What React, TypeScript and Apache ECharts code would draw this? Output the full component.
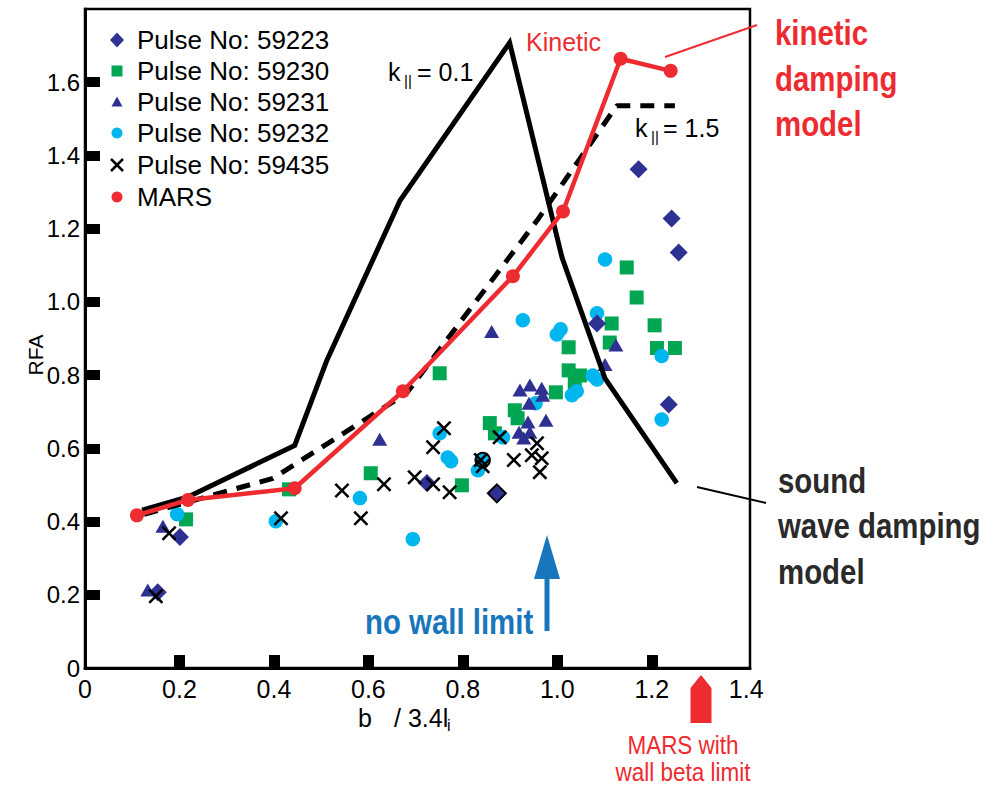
import React, { useEffect, useRef } from 'react';
import * as echarts from 'echarts';

// ---------- data ----------
const pulse59223: number[][] = [
  [0.154, 0.207], [0.201, 0.358], [0.724, 0.505], [0.872, 0.477], [1.084, 0.941],
  [1.172, 1.362], [1.242, 1.228], [1.257, 1.135], [1.236, 0.720],
];
const pulse59223Outlined = [3];

const pulse59230: number[][] = [
  [0.214, 0.406], [0.432, 0.488], [0.605, 0.532], [0.751, 0.805], [0.798, 0.499],
  [0.857, 0.669], [0.868, 0.641], [0.910, 0.704], [0.916, 0.682], [0.997, 0.753],
  [1.024, 0.876], [1.024, 0.813], [1.048, 0.799], [1.037, 0.778], [1.111, 0.889],
  [1.115, 0.941], [1.147, 1.094], [1.168, 1.012], [1.206, 0.936], [1.211, 0.874],
  [1.249, 0.874],
];

const pulse59231: number[][] = [
  [0.133, 0.213], [0.165, 0.387], [0.624, 0.625], [0.861, 0.919], [0.921, 0.759],
  [0.942, 0.773], [0.967, 0.764], [0.969, 0.745], [0.940, 0.723], [0.976, 0.677],
  [0.938, 0.672], [0.919, 0.644], [0.942, 0.644], [0.929, 0.628], [1.101, 0.829],
  [1.124, 0.882],
];

const pulse59232: number[][] = [
  [0.195, 0.420], [0.404, 0.401], [0.582, 0.464], [0.694, 0.352], [0.751, 0.641],
  [0.768, 0.575], [0.775, 0.565], [0.832, 0.540], [0.842, 0.568], [0.885, 0.630],
  [0.927, 0.950], [0.954, 0.723], [0.999, 0.911], [1.007, 0.925], [1.031, 0.745],
  [1.041, 0.756], [1.075, 0.799], [1.084, 0.788], [1.084, 0.969], [1.101, 1.116],
  [1.221, 0.852], [1.221, 0.679],
];
const pulse59232Outlined = [8];

const pulse59435: number[][] = [
  [0.150, 0.196], [0.178, 0.368], [0.415, 0.409], [0.544, 0.485], [0.584, 0.409],
  [0.633, 0.502], [0.698, 0.521], [0.737, 0.603], [0.737, 0.502], [0.760, 0.655],
  [0.772, 0.480], [0.838, 0.568], [0.842, 0.551], [0.878, 0.630], [0.908, 0.568],
  [0.957, 0.614], [0.946, 0.581], [0.967, 0.573], [0.963, 0.535],
];

const marsKinetic: number[][] = [
  [0.110, 0.417], [0.218, 0.459], [0.444, 0.491], [0.673, 0.756],
  [0.906, 1.070], [1.012, 1.247], [1.134, 1.664], [1.240, 1.631],
];

const soundK01: number[][] = [
  [0.121, 0.431], [0.218, 0.467], [0.444, 0.608], [0.512, 0.840], [0.667, 1.277],
  [0.899, 1.708], [1.010, 1.121], [1.101, 0.791], [1.253, 0.505],
];

const soundK15: number[][] = [
  [0.125, 0.420], [0.398, 0.518], [0.681, 0.751], [0.957, 1.222], [1.126, 1.536], [1.249, 1.536],
];

const xTickLabels = [0, 0.2, 0.4, 0.6, 0.8, 1.0, 1.2, 1.4];
const xTickMarks = [0.2, 0.4, 0.6, 0.8, 1.0, 1.2];
const yTickLabels = [0, 0.2, 0.4, 0.6, 0.8, 1.0, 1.2, 1.4, 1.6];
const yTickMarks = [0.2, 0.4, 0.6, 0.8, 1.0, 1.2, 1.4, 1.6];

const legendNames = [
  'Pulse No: 59223', 'Pulse No: 59230', 'Pulse No: 59231',
  'Pulse No: 59232', 'Pulse No: 59435', 'MARS',
];

// ---------- style ----------
const F = '"Liberation Sans", Arial, Helvetica, sans-serif';
const NAVY = '#2e3192';
const GREEN = '#00a651';
const CYAN = '#00b6ef';
const RED = '#ed2b30';
const BLUE = '#1776bc';
const XPATH = 'path://M0 12 L12 0 L50 38 L88 0 L100 12 L62 50 L100 88 L88 100 L50 62 L12 100 L0 88 L38 50 Z';

function withOutline(arr: number[][], idx: number[]) {
  return arr.map((v, i) =>
    idx.includes(i) ? { value: v, itemStyle: { borderColor: '#000', borderWidth: 2 } } : v
  );
}

function txt(x: number, y: number, text: string, size: number, color = '#000', opts: any = {}) {
  return {
    type: 'text', x, y, silent: true,
    scaleX: opts.scaleX || 1,
    rotation: opts.rotation || 0,
    style: {
      text, fill: color, fontSize: size, fontFamily: F,
      fontWeight: opts.weight || 'normal',
      align: opts.align || 'left', verticalAlign: 'middle',
    },
  };
}

export default function App() {
  const ref = useRef<HTMLDivElement>(null);

  useEffect(() => {
    const chart = echarts.init(ref.current as HTMLDivElement, null, { renderer: 'svg' });

    const legendRows = [40, 71, 102, 133, 165, 197];
    const lx = 117;
    const legendGraphics: any[] = [
      { type: 'polygon', shape: { points: [[lx, legendRows[0] - 7.5], [lx + 7, legendRows[0]], [lx, legendRows[0] + 7.5], [lx - 7, legendRows[0]]] }, style: { fill: NAVY } },
      { type: 'rect', shape: { x: lx - 5.5, y: legendRows[1] - 5.5, width: 11, height: 11 }, style: { fill: GREEN } },
      { type: 'polygon', shape: { points: [[lx, legendRows[2] - 5.5], [lx + 5.5, legendRows[2] + 4.5], [lx - 5.5, legendRows[2] + 4.5]] }, style: { fill: NAVY } },
      { type: 'circle', shape: { cx: lx, cy: legendRows[3], r: 5.5 }, style: { fill: CYAN } },
      { type: 'line', shape: { x1: lx - 6, y1: legendRows[4] - 6, x2: lx + 6, y2: legendRows[4] + 6 }, style: { stroke: '#000', lineWidth: 2.5 } },
      { type: 'line', shape: { x1: lx + 6, y1: legendRows[4] - 6, x2: lx - 6, y2: legendRows[4] + 6 }, style: { stroke: '#000', lineWidth: 2.5 } },
      { type: 'circle', shape: { cx: lx, cy: legendRows[5], r: 5.5 }, style: { fill: RED } },
      ...legendNames.map((n, i) => txt(137, legendRows[i], n, 26)),
    ];

    const bold = { weight: 'bold', scaleX: 0.84 };
    const annotations: any[] = [
      // k|| = 0.1
      txt(388, 72, 'k', 25),
      txt(404, 80, '||', 15),
      txt(417, 72, '= 0.1', 25),
      // k|| = 1.5
      txt(635, 128, 'k', 25),
      txt(651, 136, '||', 15),
      txt(663, 128, '= 1.5', 25),
      // Kinetic
      txt(526, 42, 'Kinetic', 25, RED),
      // kinetic damping model
      { type: 'line', shape: { x1: 665, y1: 57, x2: 757, y2: 25 }, style: { stroke: RED, lineWidth: 2 } },
      txt(775, 33, 'kinetic', 35, RED, bold),
      txt(775, 79, 'damping', 35, RED, bold),
      txt(775, 124, 'model', 35, RED, bold),
      // sound wave damping model
      { type: 'line', shape: { x1: 697, y1: 487, x2: 766, y2: 503 }, style: { stroke: '#000', lineWidth: 2 } },
      txt(778, 481, 'sound', 35, '#2a2a2a', bold),
      txt(778, 526, 'wave damping', 35, '#2a2a2a', bold),
      txt(778, 572, 'model', 35, '#2a2a2a', bold),
      // no wall limit
      txt(365, 622, 'no wall limit', 35, BLUE, bold),
      { type: 'rect', shape: { x: 544.5, y: 575, width: 5, height: 56 }, style: { fill: BLUE } },
      { type: 'polygon', shape: { points: [[547, 535], [560, 579], [534, 579]] }, style: { fill: BLUE } },
      // MARS with wall beta limit
      { type: 'polygon', shape: { points: [[701, 675], [711.5, 688], [711.5, 723], [690.5, 723], [690.5, 688]] }, style: { fill: RED } },
      { ...txt(683, 745, 'MARS with', 25, RED, { align: 'center', scaleX: 0.9 }), originX: 0 },
      txt(683, 772, 'wall beta limit', 25, RED, { align: 'center', scaleX: 0.9 }),
      // axis titles
      txt(35, 355, 'RFA', 21, '#000', { align: 'center', rotation: Math.PI / 2 }),
      txt(358, 718, 'b', 25),
      txt(394, 718, '/ 3.4l', 25),
      txt(447, 725, 'i', 16),
    ];

    chart.setOption({
      animation: false,
      backgroundColor: '#fff',
      grid: {
        left: 85, top: 9, right: 255, bottom: 118,
        show: true, borderColor: '#000', borderWidth: 2.5, backgroundColor: 'transparent',
      },
      xAxis: {
        type: 'value', min: 0, max: 1.408,
        axisLine: { show: true, onZero: false, lineStyle: { color: '#000', width: 3 } },
        axisTick: { show: true, inside: true, length: 13, customValues: xTickMarks, lineStyle: { color: '#000', width: 11 } },
        axisLabel: {
          customValues: xTickLabels, color: '#000', fontSize: 25, fontFamily: F, margin: 8,
          formatter: (v: number) => (v === 0 ? '0' : v.toFixed(1)),
        },
        splitLine: { show: false },
      },
      yAxis: {
        type: 'value', min: 0, max: 1.8,
        axisLine: { show: true, onZero: false, lineStyle: { color: '#000', width: 3 } },
        axisTick: { show: true, inside: true, length: 15, customValues: yTickMarks, lineStyle: { color: '#000', width: 10 } },
        axisLabel: {
          customValues: yTickLabels, color: '#000', fontSize: 24, fontFamily: F, margin: 5,
          formatter: (v: number) => (v === 0 ? '0' : v.toFixed(1)),
        },
        splitLine: { show: false },
      },
      series: [
        {
          name: 'Pulse No: 59230', type: 'scatter', symbol: 'rect', symbolSize: 14,
          itemStyle: { color: GREEN, opacity: 1 }, data: pulse59230, z: 2,
        },
        {
          name: 'Pulse No: 59232', type: 'scatter', symbol: 'circle', symbolSize: 14.5,
          itemStyle: { color: CYAN, opacity: 1 }, data: withOutline(pulse59232, pulse59232Outlined), z: 2,
        },
        {
          name: 'Pulse No: 59231', type: 'scatter', symbol: 'triangle', symbolSize: [15, 13],
          itemStyle: { color: NAVY, opacity: 1 }, data: pulse59231, z: 2,
        },
        {
          name: 'Pulse No: 59223', type: 'scatter', symbol: 'diamond', symbolSize: 18,
          itemStyle: { color: NAVY, opacity: 1 }, data: withOutline(pulse59223, pulse59223Outlined), z: 2,
        },
        {
          name: 'Pulse No: 59435', type: 'scatter', symbol: XPATH, symbolSize: 15,
          itemStyle: { color: '#000', opacity: 1 }, data: pulse59435, z: 3,
        },
        {
          name: 'k01', type: 'line', data: soundK01, showSymbol: false, symbol: 'none', z: 4,
          lineStyle: { color: '#000', width: 5, join: 'miter', miterLimit: 10 },
        },
        {
          name: 'k15', type: 'line', data: soundK15, showSymbol: false, symbol: 'none', z: 4,
          lineStyle: { color: '#000', width: 5, type: [14, 10] },
        },
        {
          name: 'MARS', type: 'line', data: marsKinetic, symbol: 'circle', symbolSize: 14, z: 5,
          itemStyle: { color: RED }, lineStyle: { color: RED, width: 4.5 },
        },
      ],
      graphic: [...legendGraphics, ...annotations],
    });

    return () => chart.dispose();
  }, []);

  return (
    <div
      ref={ref}
      style={{ position: 'fixed', left: 0, top: 0, width: 1005, height: 786, background: '#fff' }}
    />
  );
}
